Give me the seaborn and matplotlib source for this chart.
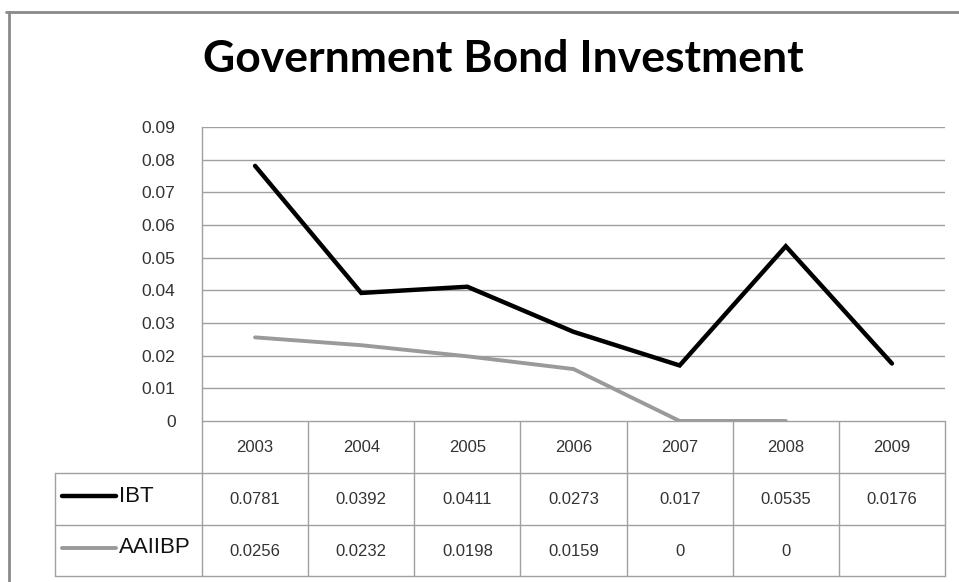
import numpy as np
import pandas as pd
import matplotlib
matplotlib.use("Agg")
import matplotlib.pyplot as plt
import seaborn as sns

# ---- data ----
years = ["2003", "2004", "2005", "2006", "2007", "2008", "2009"]
ibt = [0.0781, 0.0392, 0.0411, 0.0273, 0.017, 0.0535, 0.0176]
aaiibp = [0.0256, 0.0232, 0.0198, 0.0159, 0.0, 0.0, np.nan]
ibt_labels = ["0.0781", "0.0392", "0.0411", "0.0273", "0.017", "0.0535", "0.0176"]
aaiibp_labels = ["0.0256", "0.0232", "0.0198", "0.0159", "0", "0", ""]
series_names = ["IBT", "AAIIBP"]
series_colors = ["#000000", "#9a9a9a"]
yticks = [0, 0.01, 0.02, 0.03, 0.04, 0.05, 0.06, 0.07, 0.08, 0.09]
ytick_labels = ["0", "0.01", "0.02", "0.03", "0.04", "0.05", "0.06", "0.07", "0.08", "0.09"]

sns.set_style("white")
plt.rcParams["font.family"] = ["Liberation Sans", "DejaVu Sans"]

W, H = 959, 582
fig = plt.figure(figsize=(W / 100, H / 100), dpi=100)

# pixel geometry
x0, x1 = 202, 945
ytop, ybot = 127, 421
ax = fig.add_axes([x0 / W, 1 - ybot / H, (x1 - x0) / W, (ybot - ytop) / H])

df = pd.DataFrame({
    "idx": list(range(len(years))) * 2,
    "value": ibt + aaiibp,
    "series": [series_names[0]] * len(years) + [series_names[1]] * len(years),
})
sns.lineplot(data=df, x="idx", y="value", hue="series", palette=series_colors,
             ax=ax, legend=False, linewidth=3.0, solid_capstyle="round",
             solid_joinstyle="miter")
for ln, lw in zip(ax.get_lines(), [3.2, 2.8]):
    ln.set_linewidth(lw)

ax.set_xlim(-0.5, len(years) - 0.5)
ax.set_ylim(0, 0.09)
ax.set_yticks(yticks)
ax.set_yticklabels(ytick_labels, fontsize=12.5, color="#333333")
ax.set_xticks([])
ax.set_xlabel("")
ax.set_ylabel("")
ax.tick_params(axis="y", length=0, pad=19)
ax.grid(axis="y", color="#a0a0a0", linewidth=1.0)
ax.set_axisbelow(True)
for s in ["top", "right", "bottom"]:
    ax.spines[s].set_visible(False)
ax.spines["left"].set_color("#a0a0a0")
ax.spines["left"].set_linewidth(1.0)

# ---- overlay axes in pixel coordinates for table & border ----
ov = fig.add_axes([0, 0, 1, 1], zorder=-1)
ov.set_xlim(0, W)
ov.set_ylim(H, 0)
ov.axis("off")
ov.patch.set_alpha(0)

tc = "#a0a0a0"
colw = (x1 - x0) / len(years)
r0, r1, r2, r3 = 421, 473, 525, 576
lx = 55
ov.plot([x0, x1], [r0, r0], color=tc, lw=1.0)
for y in (r1, r2, r3):
    ov.plot([lx, x1], [y, y], color=tc, lw=1.0)
for k in range(len(years) + 1):
    xx = x0 + k * colw
    ov.plot([xx, xx], [r0, r3], color=tc, lw=1.0)
ov.plot([lx, lx], [r1, r3], color=tc, lw=1.0)

for k, yr in enumerate(years):
    cx = x0 + (k + 0.5) * colw
    ov.text(cx, (r0 + r1) / 2 + 1, yr, ha="center", va="center", fontsize=12, color="#333333")
    ov.text(cx, (r1 + r2) / 2 + 1, ibt_labels[k], ha="center", va="center", fontsize=12, color="#333333")
    ov.text(cx, (r2 + r3) / 2 + 1, aaiibp_labels[k], ha="center", va="center", fontsize=12, color="#333333")

for (ya, yb), name, col, lw in zip([(r1, r2), (r2, r3)], series_names, series_colors, [3.2, 2.8]):
    ym = (ya + yb) / 2 - 3
    ov.plot([62, 116], [ym, ym], color=col, lw=lw, solid_capstyle="round")
    ov.text(119, ym, name, ha="left", va="center", fontsize=16, color="#111111")

# outer border
ov.plot([6, W + 5], [12, 12], color="#8a8a8a", lw=2.0)
ov.plot([9, 9], [12, H + 5], color="#8a8a8a", lw=2.0)

# title
fig.text(503 / W, 1 - 72 / H, "Government Bond Investment", ha="center", va="baseline",
         fontsize=32, fontweight="bold", family=["Lato", "DejaVu Sans"], color="#000000")

fig.savefig("out.png", dpi=100, facecolor="white")
